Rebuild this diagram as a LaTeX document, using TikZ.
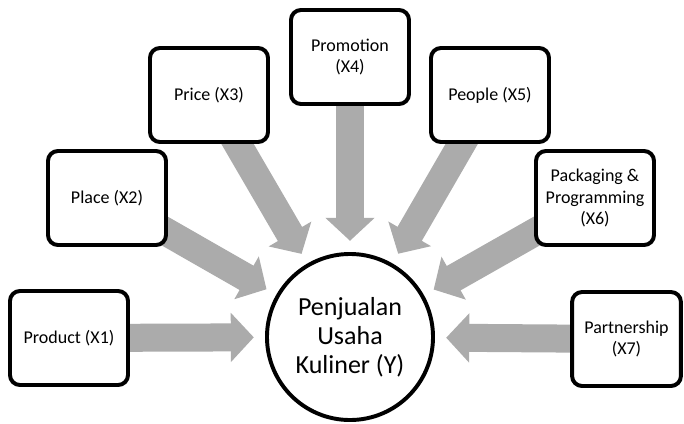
\documentclass[tikz,border=0pt]{standalone}
\usepackage{fontspec}
\setmainfont{Carlito}
\usetikzlibrary{arrows.meta,backgrounds}

\definecolor{arrowgray}{HTML}{ABABAB}
\tikzstyle{box} = [rectangle, rounded corners=0.25cm, minimum width=2.95cm, minimum height=2.35cm, align=center, draw=black, line width=2.8pt, fill=white, font=\fontsize{12.8}{15.6}\selectfont]
\tikzstyle{hub} = [circle, minimum size=4.15cm, inner sep=0pt, align=center, draw=black, line width=2.8pt, fill=white, font=\fontsize{18.5}{20.6}\selectfont]
\tikzstyle{fat} = [draw=arrowgray, line width=0.7cm, -{Triangle[width=1.2cm,length=0.575cm]}, shorten >=0.28cm]

\begin{document}
\begin{tikzpicture}[x=0.025cm,y=-0.025cm]
\useasboundingbox (0,0) rectangle (684,423);

    \node[hub] (Y) at (350,337) {Penjualan\\Usaha\\Kuliner (Y)};

    \node[box] (P1) at (69,338) {Product (X1)};
    \node[box] (P2) at (107,198) {Place (X2)};
    \node[box] (P3) at (209,95) {Price (X3)};
    \node[box] (P4) at (350,57) {Promotion\\(X4)};
    \node[box] (P5) at (490,95) {People (X5)};
    \node[box] (P6) at (595,198) {Packaging \&\\Programming\\(X6)};
    \node[box, minimum width=2.72cm] (P7) at (626.5,339) {Partnership\\(X7)};

    \begin{scope}[on background layer]
    \foreach \p in {P1,P2,P3,P4,P5,P6,P7}
        \draw[fat] (\p.center) -- (Y);
    \end{scope}

\end{tikzpicture}
\end{document}
